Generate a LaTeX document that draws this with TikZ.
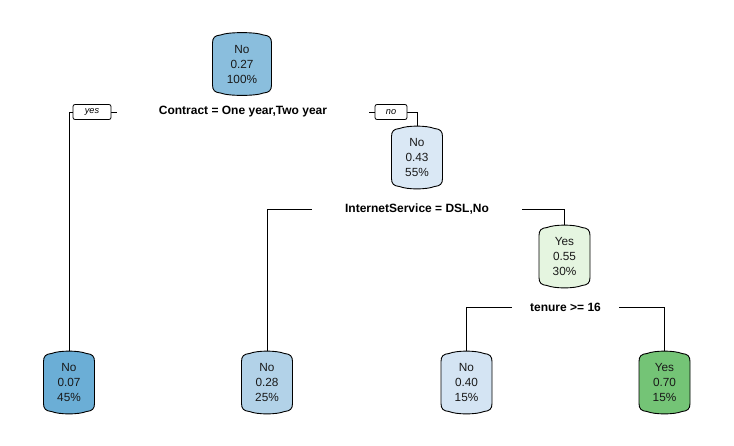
\documentclass[tikz,border=0pt]{standalone}
\usepackage{fontspec}
\setmainfont{Liberation Sans}
\definecolor{cRoot}{HTML}{8ABEDD}
\definecolor{cA}{HTML}{DAE8F5}
\definecolor{cB}{HTML}{E5F5E0}
\definecolor{cL1}{HTML}{6BAED6}
\definecolor{cL2}{HTML}{B2D2E8}
\definecolor{cL3}{HTML}{D4E4F3}
\definecolor{cL4}{HTML}{74C476}
\tikzset{
  boxline/.style={draw=black, line width=0.9pt},
  boxtext/.style={inner sep=0pt, align=center, text=black!90,
    font=\fontsize{11.8}{15}\selectfont},
  splitlabel/.style={inner sep=0pt, fill=white,
    font=\bfseries\fontsize{12}{14}\selectfont, minimum height=12pt},
  tag/.style={draw=black, line width=0.8pt, fill=white, rounded corners=2pt,
    inner sep=0pt, minimum height=15pt, font=\itshape\fontsize{9.2}{10}\selectfont},
  conn/.style={draw=black, line width=0.9pt},
}
% name, x, y, half width, colour, text
\newcommand\treebox[6]{%
  \path[boxline, fill=#5]
    (#2-#4, #3-21) .. controls (#2-#4, #3-26.5) and (#2-#4+2.5, #3-28.5) .. (#2-#4+8, #3-29)
    .. controls (#2-#4+16, #3-32.2) and (#2+#4-16, #3-32.2) .. (#2+#4-8, #3-29)
    .. controls (#2+#4-2.5, #3-28.5) and (#2+#4, #3-26.5) .. (#2+#4, #3-21)
    -- (#2+#4, #3+21) .. controls (#2+#4, #3+26.5) and (#2+#4-2.5, #3+28.5) .. (#2+#4-8, #3+29)
    .. controls (#2+#4-16, #3+32.2) and (#2-#4+16, #3+32.2) .. (#2-#4+8, #3+29)
    .. controls (#2-#4+2.5, #3+28.5) and (#2-#4, #3+26.5) .. (#2-#4, #3+21) -- cycle;
  \node[boxtext, minimum width=2*#4pt, minimum height=62pt] (#1) at (#2,#3) {#6};
}
\begin{document}
\begin{tikzpicture}[x=1pt,y=-1pt]
\useasboundingbox (0,0) rectangle (734,445);
\treebox{root}{242}{64}{29.5}{cRoot}{No\\0.27\\100\%}
\treebox{n2}{417}{157.5}{25.5}{cA}{No\\0.43\\55\%}
\treebox{n3}{564.5}{256.5}{25.5}{cB}{Yes\\0.55\\30\%}
\treebox{l1}{69}{382.5}{25.5}{cL1}{No\\0.07\\45\%}
\treebox{l2}{267}{382.5}{25.5}{cL2}{No\\0.28\\25\%}
\treebox{l3}{466.5}{382.5}{25.5}{cL3}{No\\0.40\\15\%}
\treebox{l4}{664.5}{382.5}{25.5}{cL4}{Yes\\0.70\\15\%}
\node[splitlabel, minimum width=252pt] (s1) at (243,112) {Contract = One year,Two year};
\node[splitlabel, minimum width=210pt] (s2) at (417,209.5) {InternetService = DSL,No};
\node[splitlabel, minimum width=107pt] (s3) at (565.5,307.5) {tenure >= 16};
\draw[conn] (s1.west) -| (l1.north);
\draw[conn] (s1.east) -| (n2.north);
\draw[conn] (s2.west) -| (l2.north);
\draw[conn] (s2.east) -| (n3.north);
\draw[conn] (s3.west) -| (l3.north);
\draw[conn] (s3.east) -| (l4.north);
\node[tag, minimum width=38pt] (yes) at (92,112) {yes};
\node[tag, minimum width=32pt] (no) at (391,112) {no};
\end{tikzpicture}
\end{document}
